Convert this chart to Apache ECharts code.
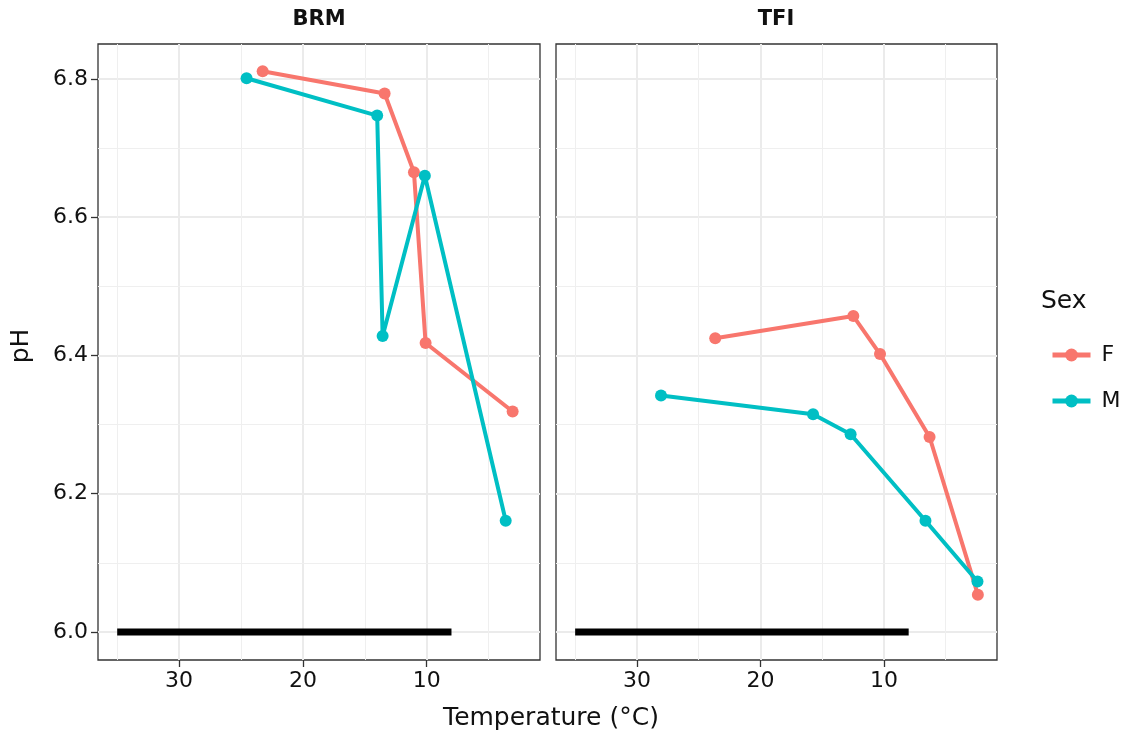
<!DOCTYPE html>
<html>
<head>
<meta charset="utf-8">
<script src="https://cdn.jsdelivr.net/npm/echarts@6/dist/echarts.min.js"></script>
<style>
  html, body { margin: 0; padding: 0; background: #fff; }
  #main { width: 1130px; height: 740px; }
</style>
</head>
<body>
<div id="main"></div>
<script>
// data
var panels = ['BRM', 'TFI'];
var brmTempF = [23.25, 13.4, 11.03, 10.09, 3.06];
var brmPhF   = [6.811, 6.779, 6.665, 6.418, 6.319];
var brmTempM = [24.55, 14.0, 13.56, 10.15, 3.62];
var brmPhM   = [6.801, 6.747, 6.428, 6.660, 6.161];
var tfiTempF = [23.66, 12.48, 10.32, 6.31, 2.4];
var tfiPhF   = [6.425, 6.457, 6.402, 6.282, 6.054];
var tfiTempM = [28.05, 15.74, 12.7, 6.64, 2.43];
var tfiPhM   = [6.342, 6.315, 6.286, 6.161, 6.073];
// black bar at pH 6
var barTemp = [35, 8];
var barPh   = [6.0, 6.0];
// ticks
var xTicks = [10, 20, 30];
var xMinor = [5, 15, 25, 35];
var yTicks = [6.0, 6.2, 6.4, 6.6, 6.8];
var yMinor = [6.1, 6.3, 6.5, 6.7];
// =====================================

var colF = '#F8766D';
var colM = '#00BFC4';
var font = 'DejaVu Sans';

function pairs(xs, ys) {
    let out = [];
    for (let i = 0; i < xs.length; i++) out.push([xs[i], ys[i]]);
    return out;
}

var chart = echarts.init(document.getElementById('main'));

var grids = [
    { left: 98, top: 44, width: 442, height: 616 },
    { left: 556, top: 44, width: 441, height: 616 }
];

var xAxes = [];
var yAxes = [];
var series = [];
for (let g = 0; g < 2; g++) {
    grids[g].show = true;
    grids[g].borderColor = '#333';
    grids[g].borderWidth = 1.3;
    grids[g].backgroundColor = '#fff';
    xAxes.push({
        gridIndex: g, type: 'value', inverse: true, min: 0.85, max: 36.55,
        axisLine: { show: false },
        axisTick: { show: true, length: 7, customValues: xTicks, lineStyle: { color: '#333', width: 1.3 } },
        axisLabel: { customValues: xTicks, color: '#111', fontFamily: font, fontSize: 22, margin: 10 },
        splitLine: { show: true, lineStyle: { color: '#EBEBEB', width: 2 } }
    });
    yAxes.push({
        gridIndex: g, type: 'value', min: 5.9595, max: 6.8505,
        axisLine: { show: false },
        axisTick: { show: g == 0, length: 7, customValues: yTicks, lineStyle: { color: '#333', width: 1.3 } },
        axisLabel: { show: g == 0, customValues: yTicks, color: '#111', fontFamily: font, fontSize: 22, margin: 10,
            formatter: function (v) { return v.toFixed(1); } },
        splitLine: { show: true, lineStyle: { color: '#EBEBEB', width: 2 } }
    });
    // minor grid lines
    let minorLines = [];
    xMinor.forEach(function (v) { minorLines.push({ xAxis: v }); });
    yMinor.forEach(function (v) { minorLines.push({ yAxis: v }); });
    series.push({
        type: 'line', xAxisIndex: g, yAxisIndex: g, data: [], silent: true, z: 1,
        markLine: { silent: true, z: 1, symbol: ['none', 'none'], label: { show: false },
            lineStyle: { color: '#EFEFEF', width: 1, type: 'solid' }, data: minorLines, animation: false }
    });
    // black bar
    series.push({
        type: 'line', xAxisIndex: g, yAxisIndex: g, data: pairs(barTemp, barPh), silent: true,
        showSymbol: false, symbol: 'none', z: 2,
        lineStyle: { color: '#000', width: 7, cap: 'butt' }
    });
}

var sexData = [
    [pairs(brmTempF, brmPhF), pairs(brmTempM, brmPhM)],
    [pairs(tfiTempF, tfiPhF), pairs(tfiTempM, tfiPhM)]
];
var sexNames = ['F', 'M'];
var sexCols = [colF, colM];
for (let g = 0; g < 2; g++) {
    for (let s = 0; s < 2; s++) {
        series.push({
            name: sexNames[s], type: 'line', xAxisIndex: g, yAxisIndex: g,
            data: sexData[g][s], symbol: 'circle', symbolSize: 12, showAllSymbol: true, z: 3 + s,
            lineStyle: { color: sexCols[s], width: 4 },
            itemStyle: { color: sexCols[s] }
        });
    }
}

var option = {
    animation: false,
    backgroundColor: '#fff',
    grid: grids,
    xAxis: xAxes,
    yAxis: yAxes,
    legend: {
        data: sexNames, orient: 'vertical', left: 1045, top: 339,
        itemWidth: 38, itemHeight: 16, itemGap: 24,
        lineStyle: { width: 5 },
        textStyle: { fontFamily: font, fontSize: 22, color: '#111', padding: [0, 0, 0, 6] }
    },
    graphic: [
        { type: 'text', x: 319, y: 20, style: { text: panels[0], font: 'bold 21px "DejaVu Sans"', fill: '#111', align: 'center', verticalAlign: 'middle' } },
        { type: 'text', x: 776, y: 20, style: { text: panels[1], font: 'bold 21px "DejaVu Sans"', fill: '#111', align: 'center', verticalAlign: 'middle' } },
        { type: 'text', x: 551, y: 718, style: { text: 'Temperature (°C)', font: '25px "DejaVu Sans"', fill: '#111', align: 'center', verticalAlign: 'middle' } },
        { type: 'text', x: 21, y: 346, rotation: Math.PI / 2, style: { text: 'pH', font: '25px "DejaVu Sans"', fill: '#111', align: 'center', verticalAlign: 'middle' } },
        { type: 'text', x: 1041, y: 301, style: { text: 'Sex', font: '25px "DejaVu Sans"', fill: '#111', align: 'left', verticalAlign: 'middle' } }
    ],
    series: series
};
chart.setOption(option);
</script>
</body>
</html>
